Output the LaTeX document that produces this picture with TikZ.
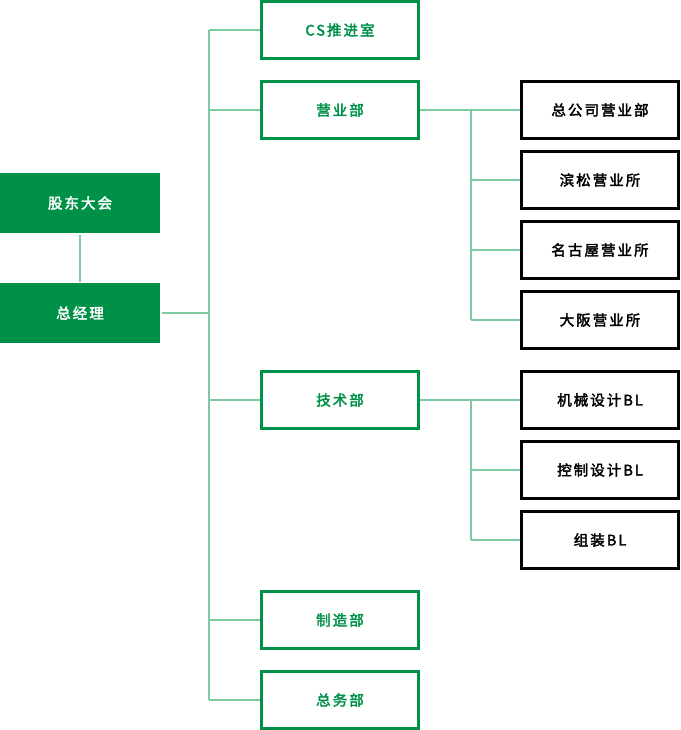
\documentclass[tikz,border=0pt]{standalone}
\usepackage{fontspec}
\setmainfont{Noto Sans CJK SC}[LetterSpace=14, FakeBold=2.5]
\definecolor{gr}{HTML}{009149}
\definecolor{ln}{HTML}{7DC9A0}
\begin{document}
\begin{tikzpicture}[x=1pt,y=-1pt,
  base/.style={minimum width=157pt, minimum height=57pt, inner sep=0pt, line width=3pt,
    font=\fontsize{14.5pt}{16pt}\selectfont},
  topbox/.style={base, fill=gr, draw=none, minimum width=160pt, minimum height=60pt, text=white},
  deptbox/.style={base, draw=gr, fill=white, text=gr},
  subbox/.style={base, draw=black, fill=white, text=black},
  conn/.style={draw=ln, line width=1.2pt}]
\useasboundingbox (0,0) rectangle (680,730);
% left
\node[topbox] (gd) at (80,203) {股东大会};
\node[topbox] (gm) at (80,313) {总经理};
% departments
\node[deptbox] (cs) at (340,30) {CS推进室};
\node[deptbox] (yy) at (340,110) {营业部};
\node[deptbox] (js) at (340,400) {技术部};
\node[deptbox] (zz) at (340,620) {制造部};
\node[deptbox] (zw) at (340,700) {总务部};
% sub units
\node[subbox] (s1) at (600,110) {总公司营业部};
\node[subbox] (s2) at (600,180) {滨松营业所};
\node[subbox] (s3) at (600,250) {名古屋营业所};
\node[subbox] (s4) at (600,320) {大阪营业所};
\node[subbox] (t1) at (600,400) {机械设计BL};
\node[subbox] (t2) at (600,470) {控制设计BL};
\node[subbox] (t3) at (600,540) {组装BL};
% connectors
\coordinate (tx) at (209,0);
\coordinate (sx) at (471,0);
\draw[conn] (gd.south) -- (gm.north);
\draw[conn] (gm.east) -- (tx |- gm.east);
\draw[conn] (tx |- cs.west) -- (tx |- zw.west);
\foreach \n in {cs,yy,js,zz,zw} \draw[conn] (tx |- \n.west) -- (\n.west);
\draw[conn] (yy.east) -- (s1.west);
\draw[conn] (sx |- yy.east) -- (sx |- s4.west);
\foreach \n in {s2,s3,s4} \draw[conn] (sx |- \n.west) -- (\n.west);
\draw[conn] (js.east) -- (t1.west);
\draw[conn] (sx |- js.east) -- (sx |- t3.west);
\foreach \n in {t2,t3} \draw[conn] (sx |- \n.west) -- (\n.west);
\end{tikzpicture}
\end{document}
